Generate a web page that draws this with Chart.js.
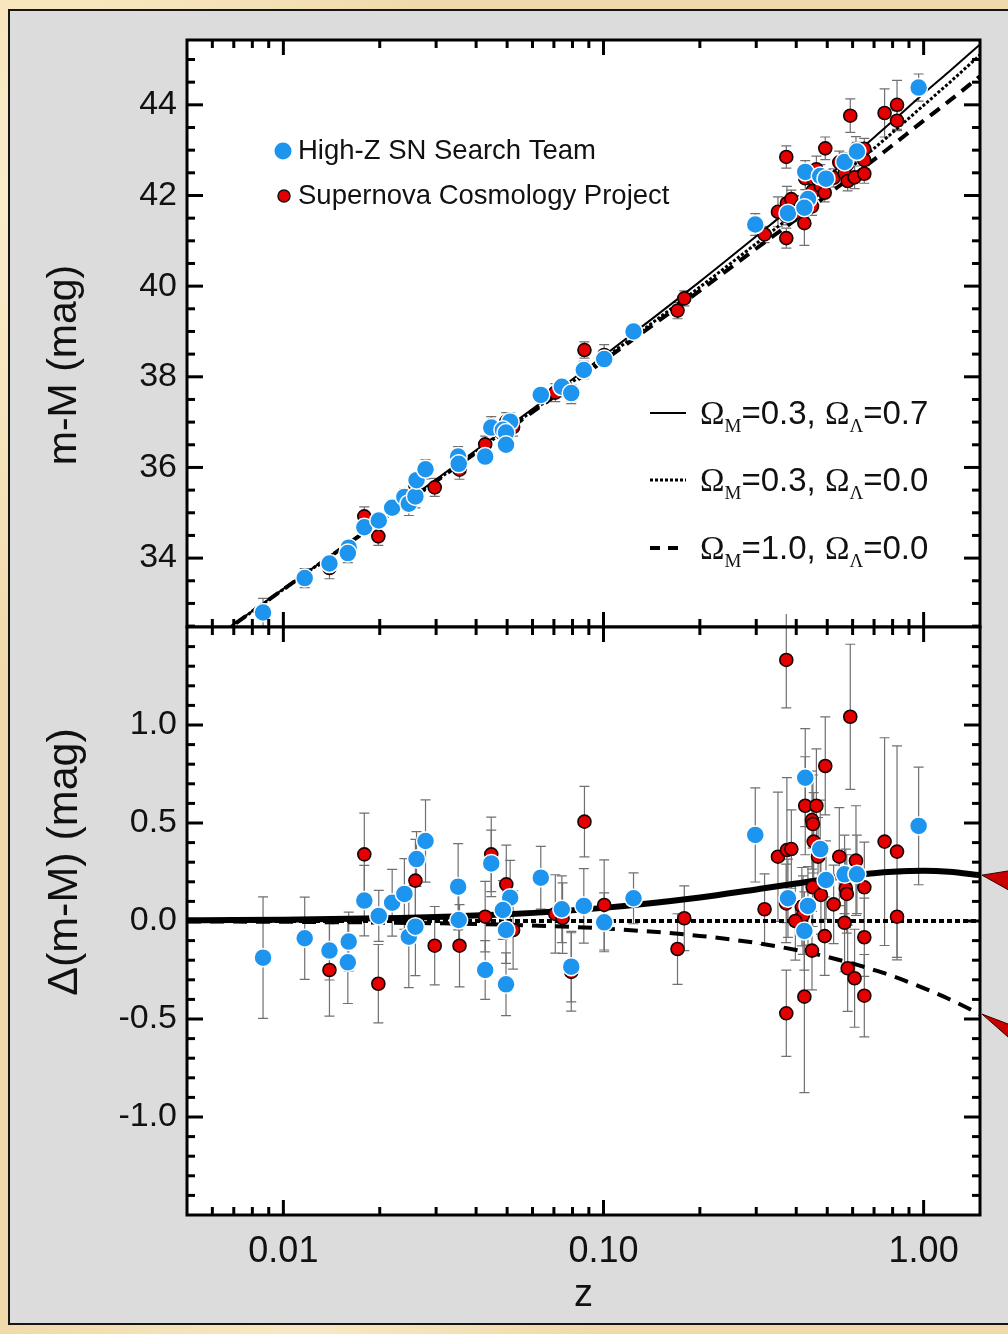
<!DOCTYPE html>
<html>
<head>
<meta charset="utf-8">
<title>Hubble diagram of Type Ia supernovae</title>
<script src="https://cdn.jsdelivr.net/npm/chart.js@4.4.1/dist/chart.umd.min.js"></script>
<style>
  html, body { margin: 0; padding: 0; }
  body {
    width: 1008px; height: 1334px; overflow: hidden; position: relative;
    background-color: #f0daab;
    background-image:
      radial-gradient(ellipse at 5% 15%, rgba(255, 243, 212, 0.8), transparent 30%),
      radial-gradient(ellipse at 90% 60%, rgba(226, 196, 142, 0.7), transparent 40%),
      radial-gradient(ellipse at 30% 98%, rgba(252, 236, 200, 0.8), transparent 30%);
  }
  #panel {
    position: absolute; left: 8px; top: 9px; width: 1030px; height: 1316px;
    box-sizing: border-box; background: #dcdcdc; border: 2px solid #161616;
  }
  .wrap { position: absolute; left: 0; width: 1008px; }
  #wrapTop { top: 0; height: 640px; }
  #wrapBot { top: 614px; height: 720px; }
</style>
</head>
<body>
<div id="panel"></div>
<div class="wrap" id="wrapTop"><canvas id="topChart"></canvas></div>
<div class="wrap" id="wrapBot"><canvas id="botChart"></canvas></div>
<script>
const FONT = "'Liberation Sans', Arial, Helvetica, sans-serif";
const SERIF = "'Liberation Serif', 'Times New Roman', serif";
const BLUE = '#1d95ef';
const RED = '#e40000';

// model curves
const zModel   = [0.005, 0.007, 0.01, 0.02, 0.05, 0.1, 0.2, 0.3, 0.4, 0.5, 0.6, 0.7, 0.8, 1.0, 1.2, 1.5];
const muLambda = [31.80, 32.54, 33.32, 34.83, 36.88, 38.46, 40.10, 41.10, 41.82, 42.41, 42.88, 43.28, 43.64, 44.25, 44.73, 45.33];
const muOpen   = [31.80, 32.53, 33.31, 34.82, 36.84, 38.39, 39.98, 40.94, 41.63, 42.19, 42.65, 43.04, 43.39, 43.99, 44.48, 45.10];
const muFlat   = [31.80, 32.53, 33.31, 34.81, 36.82, 38.35, 39.90, 40.83, 41.48, 42.01, 42.43, 42.79, 43.11, 43.65, 44.08, 44.63];
const dLambda  = [0.004, 0.005, 0.007, 0.014, 0.035, 0.067, 0.120, 0.161, 0.191, 0.216, 0.232, 0.244, 0.251, 0.256, 0.251, 0.234];
const dOpen    = [0, 0, 0, 0, 0, 0, 0, 0, 0, 0, 0, 0, 0, 0, 0, 0];
const dFlat    = [-0.002, -0.003, -0.004, -0.008, -0.019, -0.038, -0.076, -0.112, -0.148, -0.183, -0.217, -0.250, -0.281, -0.342, -0.398, -0.475];

// High-Z SN Search Team
const zBlue = [
  0.00864, 0.01166, 0.01393, 0.01600, 0.01590, 0.0179, 0.01986, 0.02187, 0.02388, 0.02465,
  0.02585, 0.02606, 0.0278, 0.03515, 0.0353, 0.0427, 0.0446, 0.0511, 0.0485, 0.0496,
  0.0496, 0.0637, 0.0741, 0.0793, 0.0868, 0.1005, 0.1241, 0.2979, 0.4268, 0.4754,
  0.4955, 0.5663, 0.6189, 0.3769, 0.4352, 0.4241, 0.9647];
const muBlue = [
  32.80, 33.56, 33.88, 34.23, 34.11, 34.68, 34.83, 35.11, 35.35, 35.20,
  35.36, 35.72, 35.96, 36.24, 36.08, 36.24, 36.88, 37.01, 36.83, 36.77,
  36.50, 37.60, 37.78, 37.64, 38.15, 38.39, 39.00, 41.36, 42.52, 42.43,
  42.37, 42.74, 42.97, 41.61, 41.92, 41.73, 44.38];
const dmBlue = [
  -0.187, -0.088, -0.151, -0.105, -0.211, 0.104, 0.026, 0.093, 0.138, -0.080,
  -0.029, 0.316, 0.408, 0.175, 0.005, -0.250, 0.294, 0.119, 0.056, -0.046,
  -0.323, 0.221, 0.060, -0.233, 0.077, -0.007, 0.116, 0.439, 0.731, 0.367,
  0.209, 0.238, 0.238, 0.116, 0.077, -0.051, 0.485];
const errBlue = [
  0.31, 0.21, 0.15, 0.15, 0.21, 0.18, 0.13, 0.17, 0.18, 0.26,
  0.25, 0.14, 0.21, 0.22, 0.15, 0.15, 0.17, 0.19, 0.15, 0.17,
  0.16, 0.16, 0.17, 0.18, 0.19, 0.15, 0.13, 0.24, 0.25, 0.25,
  0.20, 0.20, 0.20, 0.20, 0.20, 0.20, 0.30];

// Supernova Cosmology Project
const zRed = [
  0.01393, 0.0179, 0.0198, 0.02585, 0.0297, 0.0355, 0.0427, 0.0446, 0.0497, 0.0522,
  0.0707, 0.0745, 0.0793, 0.0872, 0.1005, 0.1703, 0.1788, 0.3724, 0.590, 0.4929,
  0.4268, 0.4624, 0.448, 0.451, 0.4535, 0.468, 0.3507, 0.3740, 0.3862, 0.5452,
  0.6147, 0.7552, 0.8259, 0.826, 0.6527, 0.5714, 0.5755, 0.4503, 0.4777, 0.5235,
  0.3720, 0.3185, 0.4165, 0.4200, 0.3975, 0.5663, 0.4909, 0.6527, 0.448, 0.579,
  0.6086, 0.6527, 0.4241, 0.3724];
const muRed = [
  33.78, 34.92, 34.48, 35.60, 35.56, 35.95, 36.51, 36.93, 37.01, 36.89,
  37.65, 37.74, 37.61, 38.59, 38.48, 39.46, 39.73, 42.85, 43.76, 43.04,
  42.38, 42.58, 42.43, 42.43, 42.35, 42.35, 41.64, 41.83, 41.92, 42.73,
  43.02, 43.82, 44.00, 43.65, 43.03, 42.69, 42.68, 42.10, 42.20, 42.39,
  41.55, 41.14, 41.80, 41.78, 41.62, 42.49, 42.06, 42.78, 41.76, 42.32,
  42.40, 42.48, 41.39, 41.06];
const dmRed = [
  -0.250, 0.340, -0.320, 0.206, -0.126, -0.126, 0.022, 0.340, 0.187, -0.046,
  0.036, 0.015, -0.260, 0.507, 0.082, -0.143, 0.014, 1.332, 1.042, 0.791,
  0.588, 0.588, 0.515, 0.495, 0.405, 0.328, 0.328, 0.362, 0.367, 0.328,
  0.308, 0.405, 0.354, 0.022, 0.172, 0.167, 0.138, 0.172, 0.133, 0.085,
  0.090, 0.060, 0.073, 0.030, 0.000, -0.009, -0.077, -0.083, -0.151, -0.241,
  -0.292, -0.381, -0.386, -0.471];
const errRed = [
  0.235, 0.21, 0.20, 0.21, 0.20, 0.21, 0.18, 0.19, 0.20, 0.20,
  0.20, 0.18, 0.20, 0.18, 0.23, 0.18, 0.165, 0.245, 0.37, 0.25,
  0.25, 0.29, 0.25, 0.25, 0.25, 0.20, 0.33, 0.37, 0.20, 0.25,
  0.28, 0.53, 0.54, 0.22, 0.23, 0.20, 0.20, 0.20, 0.20, 0.20,
  0.20, 0.18, 0.20, 0.20, 0.20, 0.25, 0.20, 0.20, 0.20, 0.22,
  0.25, 0.21, 0.49, 0.22];

// axis ticks
const zTicks = [0.01, 0.1, 1];
const zMinor = [0.006, 0.007, 0.008, 0.009, 0.02, 0.03, 0.04, 0.05, 0.06, 0.07, 0.08, 0.09,
                0.2, 0.3, 0.4, 0.5, 0.6, 0.7, 0.8, 0.9];
const muTicks = [34, 36, 38, 40, 42, 44];
const muMinor = [32.5, 33, 33.5, 34.5, 35, 35.5, 36.5, 37, 37.5, 38.5, 39, 39.5,
                 40.5, 41, 41.5, 42.5, 43, 43.5, 44.5, 45];
const dmTicks = [-1, -0.5, 0, 0.5, 1];
const dmMinor = [-1.4, -1.3, -1.2, -1.1, -0.9, -0.8, -0.7, -0.6, -0.4, -0.3, -0.2, -0.1,
                 0.1, 0.2, 0.3, 0.4, 0.6, 0.7, 0.8, 0.9, 1.1, 1.2, 1.3, 1.4];

const pts = (xs, ys) => xs.map((x, i) => ({ x: x, y: ys[i] }));

// gray error bars under the markers
const errorBars = {
  id: 'errorBars',
  beforeDatasetsDraw(chart) {
    const ctx = chart.ctx;
    const ys = chart.scales.y;
    ctx.save();
    ctx.strokeStyle = '#707070';
    ctx.lineWidth = 1.2;
    chart.data.datasets.forEach((ds, di) => {
      if (!ds.errors) return;
      chart.getDatasetMeta(di).data.forEach((el, i) => {
        const v = ds.data[i].y, e = ds.errors[i];
        const t = ys.getPixelForValue(v + e), b = ys.getPixelForValue(v - e);
        ctx.beginPath();
        ctx.moveTo(el.x, t); ctx.lineTo(el.x, b);
        ctx.moveTo(el.x - 5, t); ctx.lineTo(el.x + 5, t);
        ctx.moveTo(el.x - 5, b); ctx.lineTo(el.x + 5, b);
        ctx.stroke();
      });
    });
    ctx.restore();
  }
};

// white plot area, box frame and inward ticks on all four sides
const frame = {
  id: 'frame',
  beforeDraw(chart) {
    const a = chart.chartArea;
    chart.ctx.fillStyle = '#fff';
    chart.ctx.fillRect(a.left, a.top, a.width, a.height);
  },
  afterDraw(chart, args, opts) {
    const { ctx, chartArea: a } = chart;
    const xs = chart.scales.x, ys = chart.scales.y;
    ctx.save();
    ctx.strokeStyle = '#000';
    ctx.lineWidth = 3;
    const seg = (x1, y1, x2, y2) => { ctx.beginPath(); ctx.moveTo(x1, y1); ctx.lineTo(x2, y2); ctx.stroke(); };
    const xTick = (v, len) => {
      const p = xs.getPixelForValue(v);
      seg(p, a.top, p, a.top + len);
      seg(p, a.bottom, p, a.bottom - len);
    };
    const yTick = (v, len) => {
      const p = ys.getPixelForValue(v);
      seg(a.left, p, a.left + len, p);
      seg(a.right, p, a.right - len, p);
    };
    zMinor.forEach(v => xTick(v, 8));
    zTicks.forEach(v => xTick(v, 15));
    opts.yMinor.forEach(v => yTick(v, 8));
    opts.yMajor.forEach(v => yTick(v, 16));
    ctx.strokeRect(a.left, a.top, a.width, a.height);
    ctx.restore();
  }
};

// keep the plot box exactly where the layout padding puts it
const noEdgePad = s => { s.paddingTop = 0; s.paddingBottom = 0; s.paddingLeft = 0; s.paddingRight = 0; };

function yTitle(ctx, text, cx, cy, size) {
  ctx.save();
  ctx.translate(cx, cy);
  ctx.rotate(-Math.PI / 2);
  ctx.font = size + 'px ' + FONT;
  ctx.fillStyle = '#111';
  ctx.textAlign = 'center';
  ctx.textBaseline = 'middle';
  ctx.fillText(text, 0, 0);
  ctx.restore();
}

function omegaLabel(ctx, x, y, om, ol) {
  let cx = x;
  const put = (txt, font, dy) => {
    ctx.font = font;
    ctx.fillText(txt, cx, y + dy);
    cx += ctx.measureText(txt).width;
  };
  put('\u03A9', '33px ' + SERIF, 0);
  put('M', '19px ' + SERIF, 8);
  put('=' + om + ', ', '33px ' + FONT, 0);
  put('\u03A9', '33px ' + SERIF, 0);
  put('\u039B', '19px ' + SERIF, 8);
  put('=' + ol, '33px ' + FONT, 0);
}

// legends and titles of the upper panel
const topDecor = {
  id: 'topDecor',
  afterDraw(chart) {
    const ctx = chart.ctx;
    ctx.save();
    yTitle(ctx, 'm-M (mag)', 65, 365, 41);

    ctx.fillStyle = BLUE;
    ctx.beginPath(); ctx.arc(283, 151, 8.5, 0, 2 * Math.PI); ctx.fill();
    ctx.fillStyle = RED; ctx.strokeStyle = '#111'; ctx.lineWidth = 1.5;
    ctx.beginPath(); ctx.arc(284, 196, 6, 0, 2 * Math.PI); ctx.fill(); ctx.stroke();
    ctx.fillStyle = '#111';
    ctx.font = '27.5px ' + FONT;
    ctx.textBaseline = 'middle';
    ctx.fillText('High-Z SN Search Team', 298, 151);
    ctx.fillText('Supernova Cosmology Project', 298, 196);

    ctx.strokeStyle = '#000';
    const sample = (y, w, dash) => {
      ctx.lineWidth = w; ctx.setLineDash(dash);
      ctx.beginPath(); ctx.moveTo(650, y); ctx.lineTo(686, y); ctx.stroke();
    };
    sample(413, 2, []);
    sample(480, 3, [3, 2]);
    sample(548, 4, [10, 8]);
    ctx.setLineDash([]);
    ctx.textBaseline = 'alphabetic';
    omegaLabel(ctx, 700, 424, '0.3', '0.7');
    omegaLabel(ctx, 700, 491, '0.3', '0.0');
    omegaLabel(ctx, 700, 559, '1.0', '0.0');
    ctx.restore();
  }
};

// title of the lower panel and the red pointers at the curve ends
const botDecor = {
  id: 'botDecor',
  afterDraw(chart) {
    const { ctx, chartArea: a } = chart;
    const ys = chart.scales.y;
    yTitle(ctx, '\u0394(m-M) (mag)', 65, 248, 43);
    ctx.save();
    ctx.fillStyle = '#c80000';
    ctx.strokeStyle = '#3a0000';
    ctx.lineWidth = 1;
    const tipX = a.right + 2;
    const y1 = ys.getPixelForValue(dLambda[dLambda.length - 1]);
    const y2 = ys.getPixelForValue(dFlat[dFlat.length - 1]);
    ctx.beginPath();
    ctx.moveTo(tipX, y1); ctx.lineTo(tipX + 50, y1 - 8); ctx.lineTo(tipX + 50, y1 + 28); ctx.closePath();
    ctx.fill(); ctx.stroke();
    ctx.beginPath();
    ctx.moveTo(tipX, y2); ctx.lineTo(tipX + 50, y2 + 19); ctx.lineTo(tipX + 50, y2 + 44); ctx.closePath();
    ctx.fill(); ctx.stroke();
    ctx.restore();
  }
};

function modelSet(label, data, width, dash) {
  return {
    label: label, data: data, showLine: true, pointRadius: 0, borderColor: '#000',
    borderWidth: width, borderDash: dash, cubicInterpolationMode: 'monotone', clip: 0, order: 3
  };
}

function sets(lam, open, flat, red, blue, thick) {
  return [
    modelSet('\u03A9M=0.3, \u03A9\u039B=0.7', pts(zModel, lam), thick ? 6 : 2, []),
    modelSet('\u03A9M=0.3, \u03A9\u039B=0.0', pts(zModel, open), thick ? 4 : 3, thick ? [5, 3] : [3, 2]),
    modelSet('\u03A9M=1.0, \u03A9\u039B=0.0', pts(zModel, flat), 4, thick ? [14, 9] : [12, 8]),
    { label: 'Supernova Cosmology Project', data: red.data, errors: red.err, backgroundColor: RED,
      borderColor: '#1a0000', borderWidth: 1.6, pointRadius: 6.5, order: 2 },
    { label: 'High-Z SN Search Team', data: blue.data, errors: blue.err, backgroundColor: BLUE,
      borderColor: '#ffffff', borderWidth: 1.5, pointRadius: 9, order: 1 }
  ];
}

const common = {
  responsive: true, maintainAspectRatio: false, animation: false, devicePixelRatio: 1,
  events: []
};

new Chart(document.getElementById('topChart'), {
  type: 'scatter',
  data: {
    datasets: sets(muLambda, muOpen, muFlat,
      { data: pts(zRed, muRed), err: errRed }, { data: pts(zBlue, muBlue), err: errBlue }, false)
  },
  options: Object.assign({}, common, {
    layout: { padding: { left: 0, right: 28, top: 40, bottom: 13 } },
    scales: {
      x: { type: 'logarithmic', min: 0.005, max: 1.5, display: false },
      y: {
        min: 32.48, max: 45.43,
        grid: { display: false, drawTicks: false }, border: { display: false },
        afterFit: s => { s.width = 187; noEdgePad(s); },
        afterBuildTicks: s => { s.ticks = muTicks.map(v => ({ value: v })); },
        ticks: { font: { family: FONT, size: 34 }, color: '#111', padding: 10 }
      }
    },
    plugins: {
      legend: { display: false }, tooltip: { enabled: false },
      frame: { yMajor: muTicks, yMinor: muMinor }
    }
  }),
  plugins: [frame, errorBars, topDecor]
});

new Chart(document.getElementById('botChart'), {
  type: 'scatter',
  data: {
    datasets: sets(dLambda, dOpen, dFlat,
      { data: pts(zRed, dmRed), err: errRed }, { data: pts(zBlue, dmBlue), err: errBlue }, true)
  },
  options: Object.assign({}, common, {
    layout: { padding: { left: 0, right: 28, top: 13, bottom: 0 } },
    scales: {
      x: {
        type: 'logarithmic', min: 0.005, max: 1.5,
        grid: { display: false, drawTicks: false }, border: { display: false },
        afterBuildTicks: s => { s.ticks = zTicks.map(v => ({ value: v })); },
        afterFit: s => { s.height = 119; noEdgePad(s); },
        ticks: {
          font: { family: FONT, size: 36 }, color: '#111', padding: 15,
          autoSkip: false, maxRotation: 0, callback: v => Number(v).toFixed(2)
        },
        title: { display: true, text: 'z', font: { family: FONT, size: 38 }, color: '#111',
                 padding: { top: 0, bottom: 16 } }
      },
      y: {
        min: -1.5, max: 1.5,
        grid: { display: false, drawTicks: false }, border: { display: false },
        afterFit: s => { s.width = 187; noEdgePad(s); },
        afterBuildTicks: s => { s.ticks = dmTicks.map(v => ({ value: v })); },
        ticks: { font: { family: FONT, size: 34 }, color: '#111', padding: 10,
                 callback: v => Number(v).toFixed(1) }
      }
    },
    plugins: {
      legend: { display: false }, tooltip: { enabled: false },
      frame: { yMajor: dmTicks, yMinor: dmMinor }
    }
  }),
  plugins: [frame, errorBars, botDecor]
});
</script>
</body>
</html>
